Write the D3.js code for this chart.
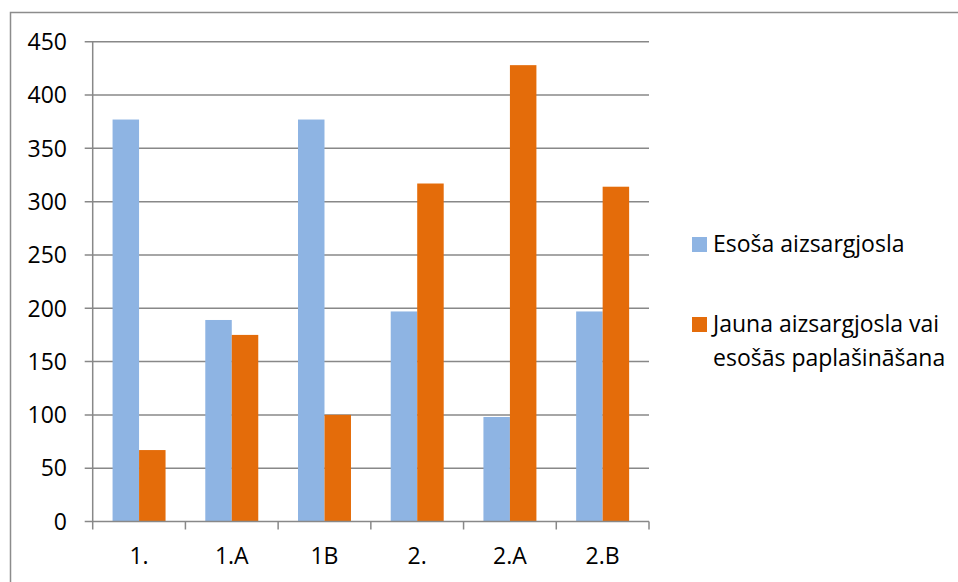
<!DOCTYPE html>
<html>
<head>
<meta charset="utf-8">
<script src="https://cdn.jsdelivr.net/npm/d3@7"></script>
<style>
  html, body { margin: 0; padding: 0; background: #fff; }
  svg { display: block; }
  text { font-family: "Open Sans", Lato, sans-serif; fill: #000; }
</style>
</head>
<body>
<svg id="chart" width="958" height="582"></svg>
<script>
// Categories and series values
const categories = ["1.", "1.A", "1B", "2.", "2.A", "2.B"];
const seriesNames = ["Esoša aizsargjosla", "Jauna aizsargjosla vai esošās paplašināšana"];
const existingZone = [377, 189, 377, 197, 98, 197];
const newZone = [67, 175, 100, 317, 428, 314];
const yTicks = [0, 50, 100, 150, 200, 250, 300, 350, 400, 450];
const seriesColors = ["#8EB4E3", "#E46C0A"];

const svg = d3.select("#chart");
const plot = { left: 92.7, right: 649, top: 41.7, bottom: 521.5 };
const gridColor = "#888888";
const fontSize = "23px";

// Outer chart frame (extends past the visible page on right and bottom)
svg.append("path")
  .attr("d", "M10.5,1000 L10.5,12.5 L1000,12.5")
  .attr("fill", "none")
  .attr("stroke", "#8c8c8c")
  .attr("stroke-width", 1.5);

const y = d3.scaleLinear().domain([0, 450]).range([plot.bottom, plot.top]);
const x0 = d3.scaleBand().domain(categories).range([plot.left, plot.right]).paddingInner(0).paddingOuter(0);
const bw = x0.bandwidth();
const gap = bw * 1.5 / 3.5;
const x1 = d3.scaleBand().domain([0, 1]).range([gap / 2, bw - gap / 2]).padding(0);

// Horizontal gridlines with tick stubs on the left
svg.append("g").selectAll("line")
  .data(yTicks.filter(d => d > 0))
  .join("line")
  .attr("x1", plot.left - 8).attr("x2", plot.right)
  .attr("y1", d => y(d)).attr("y2", d => y(d))
  .attr("stroke", gridColor).attr("stroke-width", 1.5);

// Bars
const rows = categories.map((c, i) => ({ cat: c, vals: [existingZone[i], newZone[i]] }));
const groups = svg.append("g").selectAll("g")
  .data(rows)
  .join("g")
  .attr("transform", d => `translate(${x0(d.cat)},0)`);
groups.selectAll("rect")
  .data(d => d.vals.map((v, k) => ({ v, k })))
  .join("rect")
  .attr("x", d => x1(d.k))
  .attr("width", x1.bandwidth())
  .attr("y", d => y(d.v))
  .attr("height", d => y(0) - y(d.v))
  .attr("fill", d => seriesColors[d.k]);

// Y axis line and zero baseline
svg.append("line")
  .attr("x1", plot.left).attr("x2", plot.left)
  .attr("y1", plot.top).attr("y2", plot.bottom + 8)
  .attr("stroke", gridColor).attr("stroke-width", 1.5);
svg.append("line")
  .attr("x1", plot.left - 8).attr("x2", plot.right)
  .attr("y1", y(0)).attr("y2", y(0))
  .attr("stroke", gridColor).attr("stroke-width", 1.5);

// X tick marks at category boundaries
const boundaries = categories.map(c => x0(c)).concat([plot.right]);
svg.append("g").selectAll("line")
  .data(boundaries.slice(1))
  .join("line")
  .attr("x1", d => d).attr("x2", d => d)
  .attr("y1", y(0)).attr("y2", y(0) + 8)
  .attr("stroke", gridColor).attr("stroke-width", 1.5);

// Y tick labels
svg.append("g").selectAll("text")
  .data(yTicks)
  .join("text")
  .attr("x", 67)
  .attr("y", d => y(d))
  .attr("dy", "0.36em")
  .attr("text-anchor", "end")
  .style("font-size", fontSize)
  .text(d => d);

// X category labels
svg.append("g").selectAll("text")
  .data(categories)
  .join("text")
  .attr("x", d => x0(d) + bw / 2)
  .attr("y", 564)
  .attr("text-anchor", "middle")
  .style("font-size", fontSize)
  .text(d => d);

// Legend
const legend = svg.append("g");
const legendItems = [
  { lines: ["Esoša aizsargjosla"], y: 252, color: seriesColors[0] },
  { lines: ["Jauna aizsargjosla vai", "esošās paplašināšana"], y: 332, color: seriesColors[1] }
];
legendItems.forEach(it => {
  legend.append("rect")
    .attr("x", 692).attr("y", it.y - 15)
    .attr("width", 15).attr("height", 15)
    .attr("fill", it.color);
  const t = legend.append("text")
    .attr("x", 713).attr("y", it.y)
    .style("font-size", fontSize);
  it.lines.forEach((ln, i) => {
    t.append("tspan").attr("x", 713).attr("dy", i === 0 ? 0 : 34).text(ln);
  });
});
</script>
</body>
</html>
